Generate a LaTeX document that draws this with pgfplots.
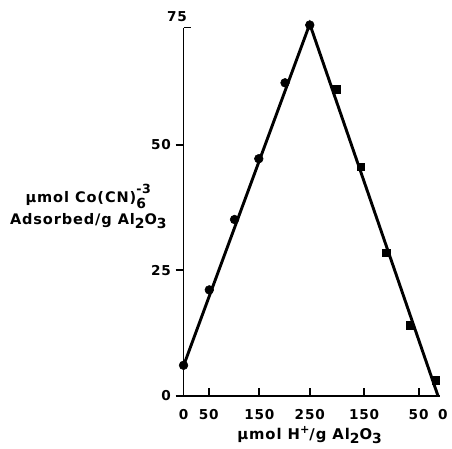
\documentclass[border=0pt]{standalone}
\usepackage{fontspec}
\setmainfont{DejaVu Sans}[LetterSpace=6]
\usepackage{pgfplots}
\pgfplotsset{compat=1.18}
\newcommand{\sub}[1]{\raisebox{-0.5ex}{\fontsize{10.5}{10}\selectfont #1}}
\newcommand{\sups}[1]{\raisebox{0.8ex}{\fontsize{8.5}{10}\selectfont #1}}
\begin{document}
\begin{tikzpicture}
\begin{axis}[
  scale only axis, width=193.5pt, height=278.5pt,
  xmin=0, xmax=507, ymin=0, ymax=73.3,
  axis x line*=bottom, axis y line*=left,
  axis line style={line width=1.3pt},
  xtick={0,50,150,250,357.6,465.6},
  xticklabels={0,50,150,250,150,50},
  extra x ticks={507},
  extra x tick labels={0},
  extra x tick style={every tick/.append style={opacity=0}, xticklabel style={xshift=2.5pt}},
  ytick={0,25,50},
  extra y ticks={73.3},
  extra y tick labels={75},
  extra y tick style={tick align=inside, yticklabel style={yshift=8pt, xshift=6pt}},
  tick align=outside,
  major tick length=6pt,
  every tick/.style={black, line width=1.4pt},
  every x tick/.append style={yshift=6pt},
  /pgf/number format/assume math mode=true,
  ticklabel style={font=\fontsize{10.3}{11}\selectfont\bfseries},
  xticklabel style={yshift=-0.5pt},
  clip=false,
]
\path ([xshift=-138.75pt,yshift=-38.25pt]rel axis cs:0,0) rectangle ([xshift=6.75pt,yshift=20.8pt]rel axis cs:1,1);
\addplot[black, line width=2.2pt] coordinates {(0,6) (250,74) (504,0)};
\addplot[only marks, mark=*, mark size=3.3pt, black] coordinates {
  (0,6.1) (51,21.1) (101,35.1) (149,47.2) (201,62.3) (250,73.8)};
\addplot[only marks, mark=square*, mark size=2.9pt, black] coordinates {
  (302,61.0) (351,45.6) (402,28.5) (448,14.1) (499.6,3.1)};
\node[anchor=base, font=\fontsize{11.2}{12}\selectfont\bfseries] at ([xshift=95.25pt,yshift=-33pt]rel axis cs:0,0)
  {\textmu mol H\sups{+}/g Al\sub{2}O\sub{3}};
\node[align=center, font=\fontsize{11}{16.5}\selectfont\bfseries] at ([xshift=-72pt,yshift=143.25pt]rel axis cs:0,0)
  {\textmu mol Co(CN)\rlap{\raisebox{-0.7ex}{\fontsize{10.5}{10}\selectfont 6}}\raisebox{1.2ex}{\fontsize{9.5}{10}\selectfont -3}\\
   Adsorbed/g Al\sub{2}O\sub{3}};
\end{axis}
\end{tikzpicture}
\end{document}
